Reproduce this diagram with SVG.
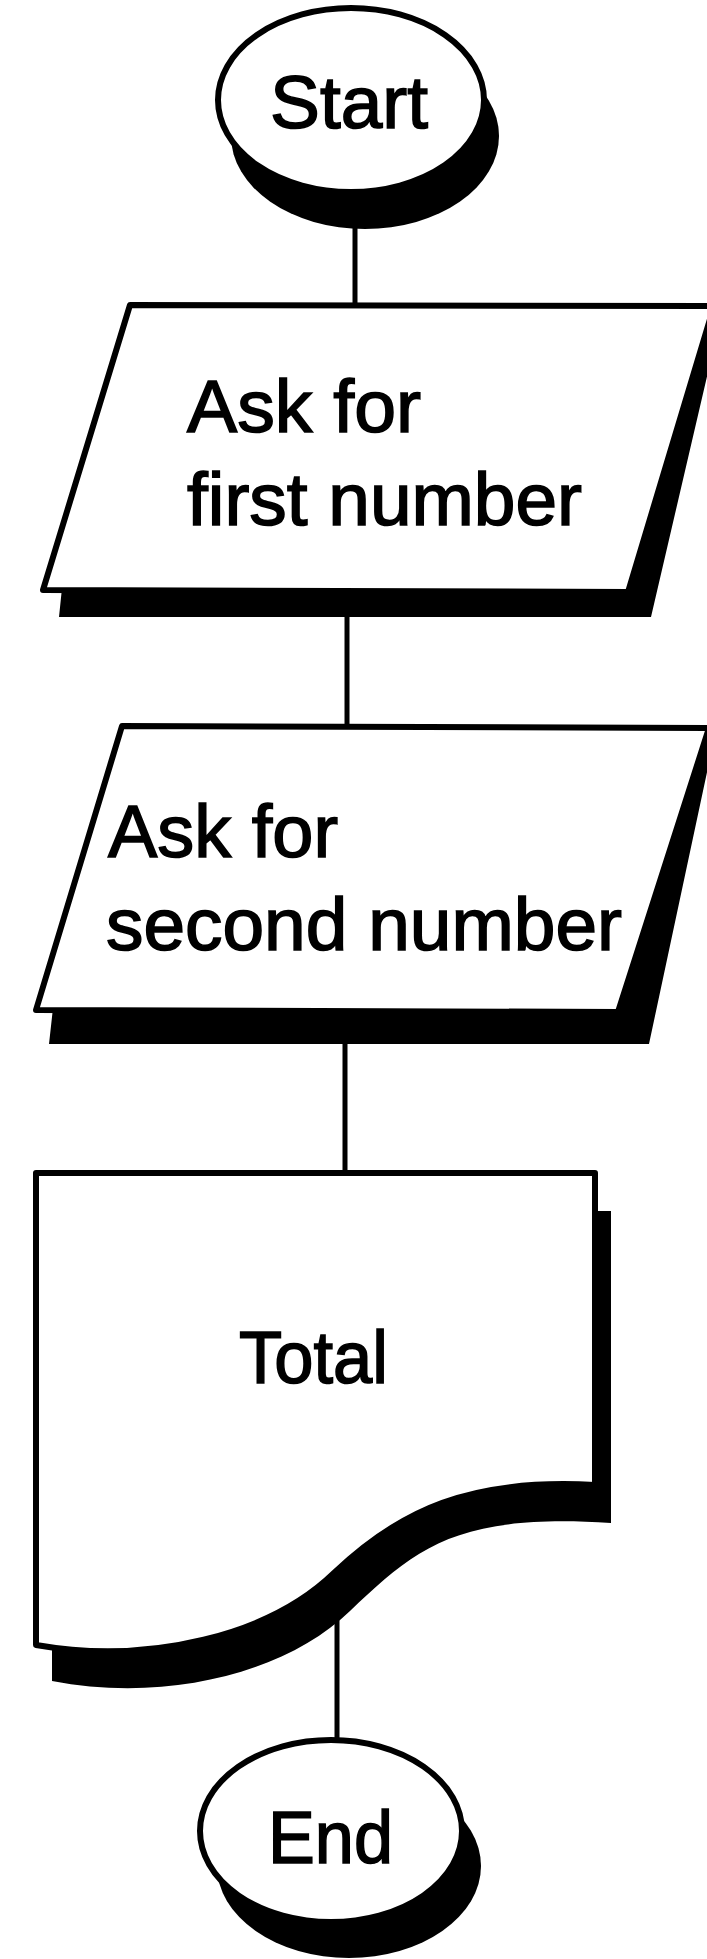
<svg xmlns="http://www.w3.org/2000/svg" width="707" height="1959" viewBox="0 0 707 1959">
<style>
.sh{fill:#000;stroke:none}
.nd{fill:#fff;stroke:#000;stroke-width:6;stroke-linejoin:round}
.cn{stroke:#000;stroke-width:5;fill:none}
.t{font-family:"Liberation Sans",Arial,sans-serif;font-size:75px;fill:#000;stroke:#000;stroke-width:1.6}
</style>
<rect width="707" height="1959" fill="#fff"/>
<g id="connectors">
<line class="cn" x1="355" y1="225" x2="355" y2="304"/>
<line class="cn" x1="347" y1="612" x2="347" y2="726"/>
<line class="cn" x1="345" y1="1040" x2="345" y2="1174"/>
<line class="cn" x1="337" y1="1590" x2="337" y2="1741"/>
</g>
<g id="start">
<ellipse class="sh" cx="365" cy="136" rx="134" ry="93"/>
<ellipse class="nd" cx="351" cy="100" rx="133" ry="92"/>
<text class="t" x="270" y="128" font-size="68" textLength="158" lengthAdjust="spacingAndGlyphs">Start</text>
</g>
<g id="input1">
<polygon class="sh" points="62,588 59,617 651,617 722,312 714,306 627,590"/>
<polygon class="nd" points="130,305 714,306 628,592 43,590"/>
<text class="t" x="187" y="432" textLength="234" lengthAdjust="spacingAndGlyphs">Ask for</text>
<text class="t" x="187" y="525" textLength="395" lengthAdjust="spacingAndGlyphs">first number</text>
</g>
<g id="input2">
<polygon class="sh" points="53,1008 49,1044 649,1044 716,730 709,728 618,1010"/>
<polygon class="nd" points="122,726 709,728 618,1012 36,1010"/>
<text class="t" x="108" y="857" textLength="230" lengthAdjust="spacingAndGlyphs">Ask for</text>
<text class="t" x="106" y="950" textLength="516" lengthAdjust="spacingAndGlyphs">second number</text>
</g>
<g id="document">
<path class="sh" d="M52,1211 L611,1211 L611,1523 C456,1513 416,1548 350,1611 C286,1673 166,1703 52,1681 Z"/>
<path class="nd" d="M36,1173 L595,1173 L595,1485 C470,1478 400,1510 334,1573 C270,1635 150,1665 36,1645 Z"/>
<text class="t" x="239" y="1383" textLength="149" lengthAdjust="spacingAndGlyphs">Total</text>
</g>
<g id="end">
<ellipse class="sh" cx="349" cy="1866" rx="132" ry="92"/>
<ellipse class="nd" cx="331" cy="1831" rx="131" ry="91"/>
<text class="t" x="268" y="1863" textLength="125" lengthAdjust="spacingAndGlyphs">End</text>
</g>
</svg>
